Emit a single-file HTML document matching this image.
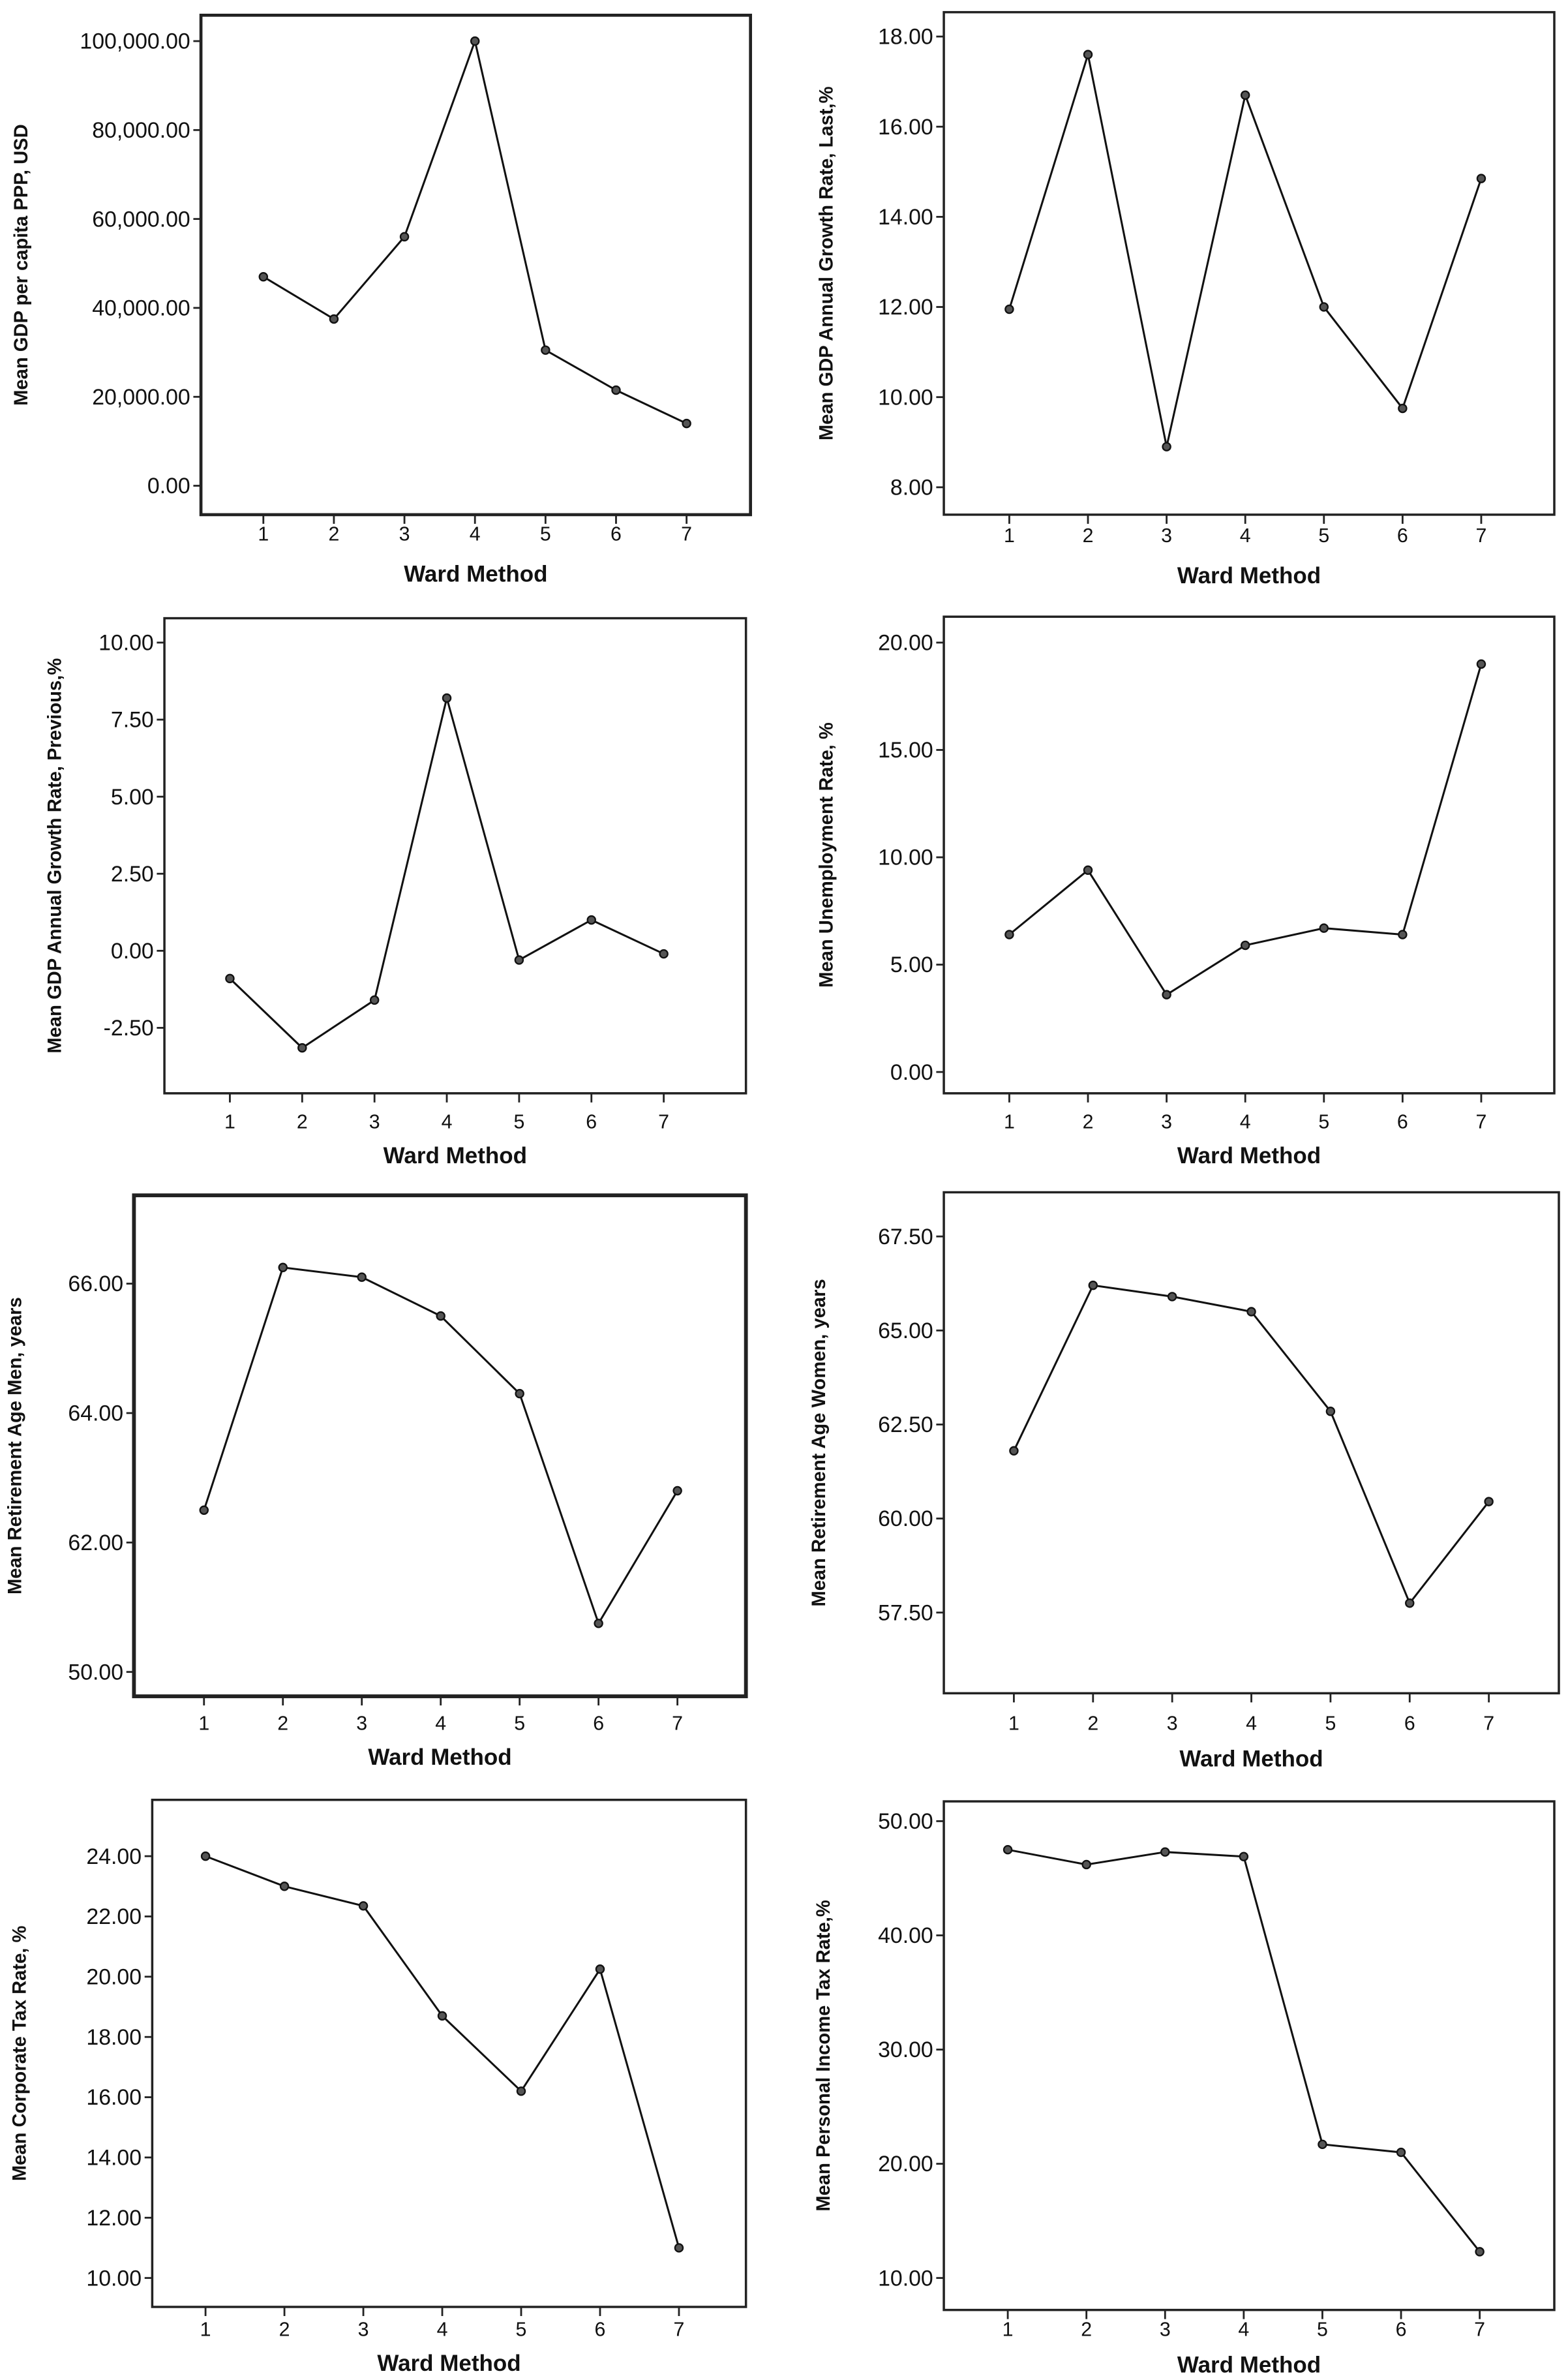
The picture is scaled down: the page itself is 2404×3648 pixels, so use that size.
<!DOCTYPE html>
<html><head><meta charset="utf-8"><style>
html,body{margin:0;padding:0;background:#fff;}
svg{display:block;}
text{font-family:"Liberation Sans",Arial,sans-serif;fill:#111;}
</style></head><body>
<svg id="fig" width="2404" height="3648" viewBox="0 0 1030 1563" xmlns="http://www.w3.org/2000/svg"></svg>
<script>
const categories = [1,2,3,4,5,6,7];
const gdpValues = [47000,37500,56000,100000,30500,21500,14000];
const gdpTicks = [0,20000,40000,60000,80000,100000];
const gdpTickLabels = ["0.00","20,000.00","40,000.00","60,000.00","80,000.00","100,000.00"];
const lastGrowthValues = [11.95,17.6,8.9,16.7,12.0,9.75,14.85];
const lastGrowthTicks = [8,10,12,14,16,18];
const lastGrowthTickLabels = ["8.00","10.00","12.00","14.00","16.00","18.00"];
const prevGrowthValues = [-0.9,-3.15,-1.6,8.2,-0.3,1.0,-0.1];
const prevGrowthTicks = [-2.5,0,2.5,5,7.5,10];
const prevGrowthTickLabels = ["-2.50","0.00","2.50","5.00","7.50","10.00"];
const unempValues = [6.4,9.4,3.6,5.9,6.7,6.4,19.0];
const unempTicks = [0,5,10,15,20];
const unempTickLabels = ["0.00","5.00","10.00","15.00","20.00"];
const menAgeValues = [62.5,66.25,66.1,65.5,64.3,60.75,62.8];
const menAgeTicks = [60,62,64,66];
const menAgeTickLabels = ["50.00","62.00","64.00","66.00"];
const womenAgeValues = [61.8,66.2,65.9,65.5,62.85,57.75,60.45];
const womenAgeTicks = [57.5,60,62.5,65,67.5];
const womenAgeTickLabels = ["57.50","60.00","62.50","65.00","67.50"];
const corpTaxValues = [24.0,23.0,22.35,18.7,16.2,20.25,11.0];
const corpTaxTicks = [10,12,14,16,18,20,22,24];
const corpTaxTickLabels = ["10.00","12.00","14.00","16.00","18.00","20.00","22.00","24.00"];
const persTaxValues = [47.5,46.2,47.3,46.9,21.7,21.0,12.3];
const persTaxTicks = [10,20,30,40,50];
const persTaxTickLabels = ["10.00","20.00","30.00","40.00","50.00"];

const NS="http://www.w3.org/2000/svg";
const svg=document.getElementById('fig');
function mk(tag,attrs,parent){const e=document.createElementNS(NS,tag);for(const k in attrs)e.setAttribute(k,attrs[k]);(parent||svg).appendChild(e);return e;}

const panels=[
 {name:'gdp-per-capita',vals:gdpValues,ticks:gdpTicks,labels:gdpTickLabels,ylabel:'Mean GDP per capita PPP, USD',box:[132,10,493,338],t0:[0,319],t1:[100000,27],x1:173,x7:451,labY:355,titY:382,ylx:18,bw:2},
 {name:'gdp-growth-last',vals:lastGrowthValues,ticks:lastGrowthTicks,labels:lastGrowthTickLabels,ylabel:'Mean GDP Annual Growth Rate, Last,%',box:[620,8,1021,338],t0:[8,320],t1:[18,24],x1:663,x7:973,labY:356,titY:383,ylx:547,bw:1.5},
 {name:'gdp-growth-previous',vals:prevGrowthValues,ticks:prevGrowthTicks,labels:prevGrowthTickLabels,ylabel:'Mean GDP Annual Growth Rate, Previous,%',box:[108,406,490,718],t0:[-2.5,675],t1:[10,422],x1:151,x7:436,labY:741,titY:764,ylx:40,bw:1.5},
 {name:'unemployment',vals:unempValues,ticks:unempTicks,labels:unempTickLabels,ylabel:'Mean Unemployment Rate, %',box:[620,405,1021,718],t0:[0,704],t1:[20,422],x1:663,x7:973,labY:741,titY:764,ylx:547,bw:1.5},
 {name:'retirement-age-men',vals:menAgeValues,ticks:menAgeTicks,labels:menAgeTickLabels,ylabel:'Mean Retirement Age Men, years',box:[88,785,490,1114],t0:[60,1098],t1:[66,843],x1:134,x7:445,labY:1136,titY:1159,ylx:14,bw:2.5},
 {name:'retirement-age-women',vals:womenAgeValues,ticks:womenAgeTicks,labels:womenAgeTickLabels,ylabel:'Mean Retirement Age Women, years',box:[620,783,1024,1112],t0:[57.5,1059],t1:[67.5,812],x1:666,x7:978,labY:1136,titY:1160,ylx:542,bw:1.5},
 {name:'corporate-tax',vals:corpTaxValues,ticks:corpTaxTicks,labels:corpTaxTickLabels,ylabel:'Mean Corporate Tax Rate, %',box:[100,1182,490,1515],t0:[10,1496],t1:[24,1219],x1:135,x7:446,labY:1534,titY:1557,ylx:17,bw:1.5},
 {name:'personal-income-tax',vals:persTaxValues,ticks:persTaxTicks,labels:persTaxTickLabels,ylabel:'Mean Personal Income Tax Rate,%',box:[620,1183,1021,1517],t0:[10,1496],t1:[50,1196],x1:662,x7:972,labY:1534,titY:1558,ylx:545,bw:1.5}
];

panels.forEach(p=>{
 const g=mk('g',{});
 
 
 const [x0,y0,x1b,y1b]=p.box;
 const yS=v=>p.t0[1]+(v-p.t0[0])*(p.t1[1]-p.t0[1])/(p.t1[0]-p.t0[0]);
 const xS=c=>p.x1+(c-1)*(p.x7-p.x1)/6;
 const box=mk('rect',{x:x0,y:y0,width:x1b-x0,height:y1b-y0,fill:'none',stroke:'#222','stroke-width':p.bw},g);
 
 
 p.ticks.forEach((t,i)=>{
  const y=yS(t);
  mk('line',{x1:x0-5,x2:x0,y1:y,y2:y,stroke:'#222','stroke-width':1.2},g);
  const tx=mk('text',{x:x0-7,y:y+5,'text-anchor':'end','font-size':14.5,fill:'#0a1030'},g);
  tx.textContent=p.labels[i];
  
  
 });
 categories.forEach(c=>{
  const x=xS(c);
  mk('line',{x1:x,x2:x,y1:y1b,y2:y1b+6,stroke:'#222','stroke-width':1.2},g);
  const tx=mk('text',{x:x,y:p.labY,'text-anchor':'middle','font-size':13},g);
  tx.textContent=c;
  
  
 });
 const xt=mk('text',{x:(x0+x1b)/2,y:p.titY,'text-anchor':'middle','font-size':15,'font-weight':'bold'},g);
 xt.textContent='Ward Method';
 
 
 const cy=(y0+y1b)/2;
 const yt=mk('text',{x:p.ylx,y:cy,'text-anchor':'middle','font-size':12.5,'font-weight':'bold',transform:`rotate(-90 ${p.ylx} ${cy})`},g);
 yt.textContent=p.ylabel;
 
 
 const pts=p.vals.map((v,i)=>xS(categories[i])+','+yS(v)).join(' ');
 const line=mk('polyline',{points:pts,fill:'none',stroke:'#111','stroke-width':1.3},g);
 
 
 p.vals.forEach((v,i)=>{
  const c=mk('circle',{cx:xS(categories[i]),cy:yS(v),r:2.6,fill:'#555',stroke:'#111','stroke-width':1},g);
  
  
 });
});
</script>
</body></html>
